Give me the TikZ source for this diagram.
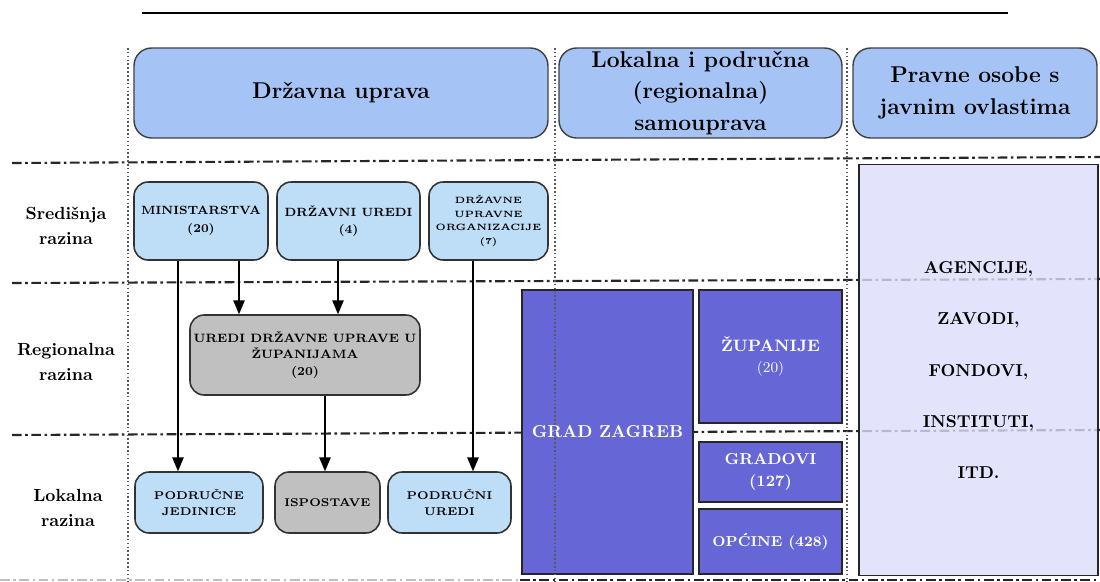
\documentclass[tikz,border=0pt]{standalone}
\usepackage{fontspec}
\usetikzlibrary{arrows}

\definecolor{hdrfill}{RGB}{165,195,245}
\definecolor{cenfill}{RGB}{190,222,248}
\definecolor{grayfill}{RGB}{192,192,192}
\definecolor{lsfill}{RGB}{102,102,214}
\definecolor{pofill}{RGB}{220,220,250}

\begin{document}
\begin{tikzpicture}[x=0.02cm,y=-0.02cm,
  hdr/.style={draw=black!75,line width=0.8pt,fill=hdrfill,rounded corners=10pt,
    minimum height=1.8cm,inner sep=0pt,align=center,font=\fontsize{13}{18}\selectfont\bfseries},
  ubox/.style={draw=black!80,line width=0.9pt,fill=cenfill,rounded corners=8pt,
    inner sep=1pt,align=center,font=\bfseries},
  gbox/.style={ubox,fill=grayfill},
  dbox/.style={draw=black!85,line width=1pt,fill=lsfill,inner sep=0pt,align=center,
    text=white,font=\bfseries},
  lvl/.style={draw=black!85,line width=1.2pt,dash pattern=on 5.5pt off 2pt on 1.5pt off 2pt},
  sepline/.style={draw=black!65,line width=0.7pt,dash pattern=on 0.9pt off 1.3pt},
  rowlbl/.style={align=center,font=\fontsize{10}{14.5}\selectfont\bfseries},
  arr/.style={line width=0.8pt,arrows={-triangle 45}}]

\useasboundingbox (0,0) rectangle (1100,582);

% top rule
\draw[line width=0.7pt] (142,13) -- (1008,13);

% level lines
\draw[lvl] (12,163) -- (1100,157);
\draw[lvl] (12,283) -- (1100,279);
\draw[lvl] (12,435) -- (1100,430);
\draw[lvl,draw=black!25,line width=0.6pt] (0,580) -- (520,580);
\draw[lvl] (520,580) -- (1100,580);

% column heads
\node[hdr,minimum width=8.28cm] (drz) at (341,93) {Državna uprava};
\node[hdr,minimum width=5.66cm] (lok) at (700.5,93) {Lokalna i područna\\(regionalna)\\samouprava};
\node[hdr,minimum width=4.88cm] (prav) at (975,93) {Pravne osobe s\\javnim ovlastima};

% row labels
\node[rowlbl] (sre) at (66,226) {Središnja\\razina};
\node[rowlbl] (reg) at (66,362) {Regionalna\\razina};
\node[rowlbl] (lokr) at (68,508) {Lokalna\\razina};

% drzavna uprava
\node[ubox,minimum width=2.68cm,minimum height=1.56cm,font=\fontsize{6.8}{10}\selectfont\bfseries] (min) at (201,221) {MINISTARSTVA\\(20)};
\node[ubox,minimum width=2.86cm,minimum height=1.56cm,font=\fontsize{6.8}{10}\selectfont\bfseries] (dru) at (348.5,221) {DRŽAVNI UREDI\\(4)};
\node[ubox,minimum width=2.38cm,minimum height=1.56cm,font=\fontsize{5.2}{7.8}\selectfont\bfseries] (duo) at (488.5,221) {DRŽAVNE\\UPRAVNE\\ORGANIZACIJE\\(7)};
\node[gbox,minimum width=4.6cm,minimum height=1.6cm,font=\fontsize{6.9}{9.2}\selectfont\bfseries] (udu) at (305,355) {UREDI DRŽAVNE UPRAVE U\\ŽUPANIJAMA\\(20)};
\node[ubox,minimum width=2.56cm,minimum height=1.22cm,font=\fontsize{6.4}{9}\selectfont\bfseries] (pj) at (199,502.5) {PODRUČNE\\JEDINICE};
\node[gbox,minimum width=2.1cm,minimum height=1.22cm,font=\fontsize{6.4}{9}\selectfont\bfseries] (isp) at (327.5,502.5) {ISPOSTAVE};
\node[ubox,minimum width=2.46cm,minimum height=1.22cm,font=\fontsize{6.4}{9}\selectfont\bfseries] (pu) at (449.5,502.5) {PODRUČNI\\UREDI};

% samouprava
\node[dbox,minimum width=3.42cm,minimum height=5.68cm,font=\fontsize{9.8}{14}\selectfont\bfseries] (gz) at (607.5,432) {GRAD ZAGREB};
\node[dbox,minimum width=2.86cm,minimum height=2.66cm] (zup) at (770.5,356.5) {\fontsize{9.4}{13.6}\selectfont ŽUPANIJE\\\fontsize{8.5}{13.6}\selectfont\mdseries (20)};
\node[dbox,minimum width=2.86cm,minimum height=1.2cm,font=\fontsize{9}{12.5}\selectfont\bfseries] (gra) at (770.5,472) {GRADOVI\\(127)};
\node[dbox,minimum width=2.86cm,minimum height=1.3cm,font=\fontsize{8.2}{11}\selectfont\bfseries] (opc) at (770.5,541.5) {OPĆINE (428)};

% pravne osobe
\node[draw=black!85,line width=1pt,fill=pofill,fill opacity=0.8,text opacity=1,
  minimum width=4.78cm,minimum height=8.22cm,inner sep=0pt,align=center,
  font=\fontsize{9.8}{29.3}\selectfont\bfseries] (ost) at (978.5,370)
  {AGENCIJE,\\ZAVODI,\\FONDOVI,\\INSTITUTI,\\ITD.};

% column separators
\draw[sepline] (128,48) -- (128,582);
\draw[sepline] (555,48) -- (555,582);
\draw[sepline] (847,48) -- (847,582);

\coordinate (v1) at (178,0);
\coordinate (v2) at (239,0);
\coordinate (v3) at (338,0);
\coordinate (v4) at (473,0);
\coordinate (v5) at (325,0);

\draw[arr] (v1 |- min.south) -- (v1 |- pj.north);
\draw[arr] (v2 |- min.south) -- (v2 |- udu.north);
\draw[arr] (v3 |- dru.south) -- (v3 |- udu.north);
\draw[arr] (v4 |- duo.south) -- (v4 |- pu.north);
\draw[arr] (v5 |- udu.south) -- (v5 |- isp.north);

\end{tikzpicture}
\end{document}
